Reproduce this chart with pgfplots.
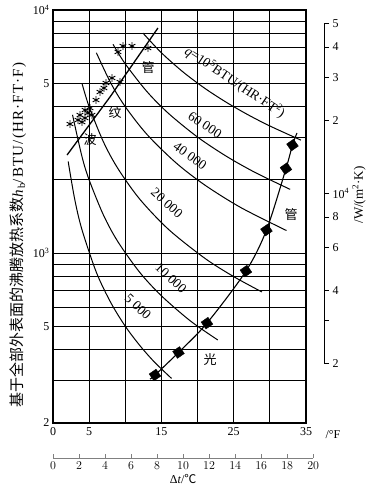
\documentclass[border=0pt]{standalone}
\usepackage{pgfplots}
\pgfplotsset{compat=1.18}
\usepackage{fontspec}
\setmainfont{Liberation Serif}
\newfontfamily\cjk{Noto Sans CJK SC}
\newfontfamily\spaced[LetterSpace=8]{Liberation Serif}
\begin{document}
\begin{tikzpicture}[x=1pt,y=1pt]
\useasboundingbox (0,0) rectangle (376,499);
% ---------------- main axis (deg F, BTU) ----------------
\begin{axis}[
  at={(53pt,76pt)}, anchor=south west,
  scale only axis, width=253pt, height=413pt,
  xmin=0, xmax=35, ymode=log, ymin=200, ymax=10000,
  xtick={0,5,10,15,20,25,30,35},
  xticklabels={0,5,,15,,25,,35},
  ytick={200,300,400,500,600,700,800,900,1000,2000,3000,4000,5000,6000,7000,8000,9000,10000},
  yticklabels={2,,,5,,,,,10\textsuperscript{3},,,,5,,,,,10\textsuperscript{4}},
  minor y tick num=0,
  grid=major, major grid style={black, line width=0.9pt},
  major tick length=0pt,
  axis line style={line width=1.3pt},
  ticklabel style={font=\fontsize{12}{12}\selectfont},
  xticklabel style={yshift=-1pt},
]
% constant heat flux lines q = h * dt
\addplot[black, line width=1pt, smooth] coordinates {(12.45,8032) (15,6667) (18,5556) (21,4762) (24,4167) (27,3704) (30,3333) (34.3,2915)};
\addplot[black, line width=1pt, smooth] coordinates {(8.3,7229) (10,6000) (13,4615) (16,3750) (20,3000) (24,2500) (28,2143) (32.8,1829)};
\addplot[black, line width=1pt, smooth] coordinates {(6.0,6667) (8,5000) (10,4000) (13,3077) (17,2353) (21,1905) (26,1538) (32.3,1238)};
\addplot[black, line width=1pt, smooth] coordinates {(4.0,5000) (5,4000) (7,2857) (9,2222) (12,1667) (16,1250) (21,952) (25,800) (28.9,692)};
\addplot[black, line width=1pt, smooth] coordinates {(2.7,3704) (4,2500) (5,2000) (7,1429) (9,1111) (12,833) (15,667) (19,526) (22.8,439)};
\addplot[black, line width=1pt, smooth] coordinates {(2.1,2381) (3,1667) (4,1250) (6,833) (8,625) (10,500) (12,417) (14,357) (16.4,305)};
% plain tube boiling curve
\addplot[black, line width=1.1pt, smooth] coordinates {(13.42,303) (14.11,315) (17.36,390) (21.30,515) (26.69,843) (29.53,1243) (32.23,2227) (33.13,2782) (33.75,3119)};
\addplot[only marks, mark=square*, mark size=4.2pt, mark options={rotate=35, fill=black}] coordinates {(14.11,315) (17.36,390) (21.30,515) (26.69,843) (29.53,1243) (32.23,2227) (33.13,2782)};
% corrugated tube boiling curve
\addplot[black, line width=1.3pt] coordinates {(1.94,2531) (7.88,4385) (14.52,8432)};
\addplot[only marks, mark=asterisk, mark size=3.8pt, mark options={line width=0.9pt}] coordinates {
(2.35,3396) (3.46,3527) (3.73,3698) (4.43,3594) (4.43,3877) (5.12,3951) (5.39,3698) (5.95,4262) (6.50,4598) (7.05,4775) (7.33,5008) (8.16,5251) (9.27,5055) (8.99,6719) (9.68,7110) (10.93,7110) (13.14,6975) (4.84,3768) (4.01,3459)};
\end{axis}
% ---------------- right axis (W/(m^2 K)) ----------------
\begin{axis}[
  at={(71pt,76pt)}, anchor=south west,
  scale only axis, width=253pt, height=413pt,
  xmin=0, xmax=1, ymode=log, ymin=1135.6, ymax=56780,
  hide x axis, axis y line*=right,
  y axis line style={draw=none},
  ytick={2000,3000,4000,6000,8000,10000,20000,30000,40000,50000},
  yticklabels={2,,4,6,8,10\textsuperscript{4},2,3,4,5},
  minor y tick num=0,
  tick align=outside, major tick length=5pt,
  every tick/.style={black, line width=0.7pt},
  ticklabel style={font=\fontsize{12}{12}\selectfont},
  clip=false,
]
\draw[line width=0.8pt] (axis cs:1,2000) -- (axis cs:1,50000);
\end{axis}
% ---------------- bottom axis (deg C) ----------------
\begin{axis}[
  at={(53pt,41pt)}, anchor=south west,
  scale only axis, width=260.2pt, height=10pt,
  xmin=0, xmax=20, ymin=0, ymax=1,
  hide y axis, axis x line*=bottom,
  x axis line style={gray, line width=0.6pt},
  xtick={0,2,...,20},
  tick align=inside, major tick length=4pt,
  every tick/.style={gray, line width=0.6pt},
  ticklabel style={font=\fontsize{12}{12}\selectfont},
  xlabel={Δ\textit{t}/{\cjk ℃}},
  xlabel style={font=\fontsize{12}{12}\selectfont, yshift=2pt},
]
\end{axis}
% ---------------- texts ----------------
\node[rotate=90, font=\fontsize{15}{15}\selectfont] at (18,264) {{\cjk 基于全部外表面的沸腾放热系数}{\spaced\textit{h}\textsubscript{b}/BTU/(HR·FT·F)}};
\node[rotate=90, font=\fontsize{13}{13}\selectfont] at (359,304) {/W/(m\textsuperscript{2}·K)};
\node[font=\fontsize{12}{12}\selectfont] at (333,64) {/°F};
\node[rotate=-33.7, font=\fontsize{13.5}{13.5}\selectfont] at (235,417) {\textit{q}=10\textsuperscript{5}BTU/(HR·FT\textsuperscript{2})};
\node[rotate=-33.7, font=\fontsize{13.5}{13.5}\selectfont] at (205,374) {60~000};
\node[rotate=-35.5, font=\fontsize{13.5}{13.5}\selectfont] at (190,343) {40~000};
\node[rotate=-42, font=\fontsize{13.5}{13.5}\selectfont] at (167,296) {20~000};
\node[rotate=-43, font=\fontsize{13.5}{13.5}\selectfont] at (171,221) {10~000};
\node[rotate=-43, font=\fontsize{13.5}{13.5}\selectfont] at (138,192) {5~000};
\node[font=\cjk\fontsize{13}{13}\selectfont] at (148,431) {管};
\node[font=\cjk\fontsize{13}{13}\selectfont] at (115,386) {纹};
\node[font=\cjk\fontsize{13}{13}\selectfont] at (90,359) {波};
\node[font=\cjk\fontsize{13}{13}\selectfont] at (210,139) {光};
\node[font=\cjk\fontsize{13}{13}\selectfont] at (291,284) {管};
\end{tikzpicture}
\end{document}
